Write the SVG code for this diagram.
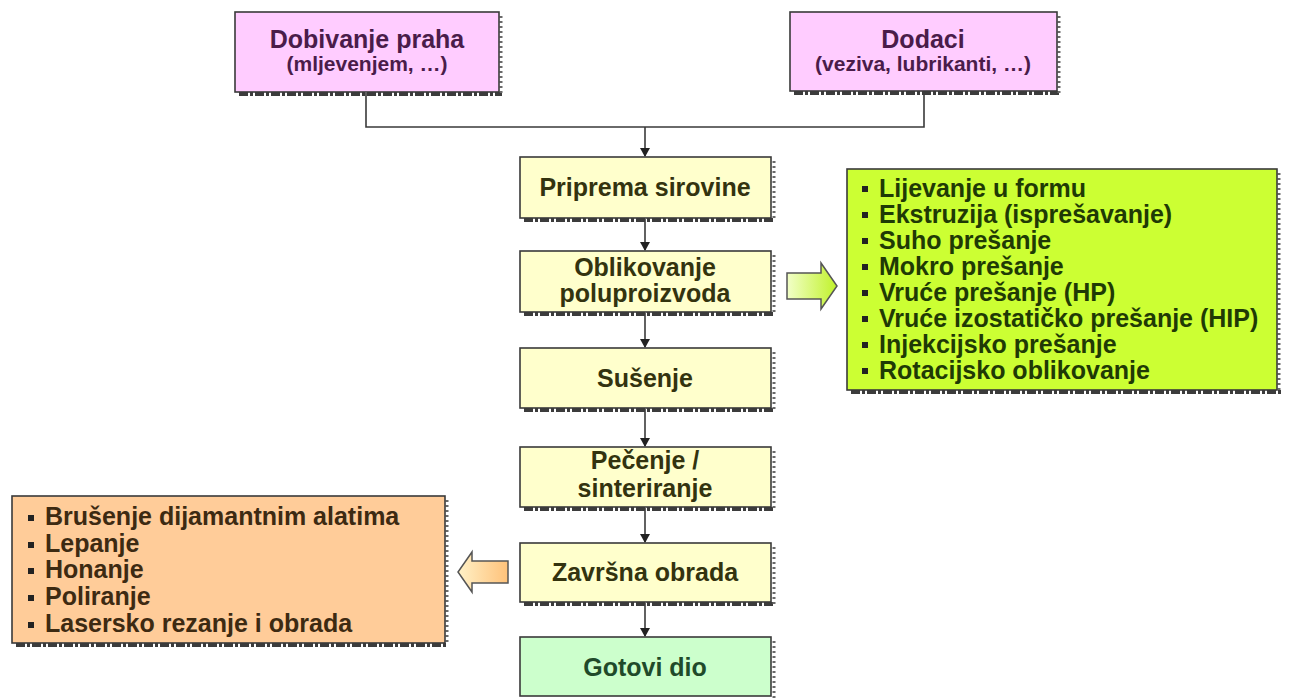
<svg xmlns="http://www.w3.org/2000/svg" width="1292" height="698" viewBox="0 0 1292 698">
<style>
text{font-family:"Liberation Sans",Arial,sans-serif;font-weight:bold}
.box{stroke:#3a3a3a;stroke-width:1.6}
.shb{stroke:#3c3c3c;stroke-width:4;stroke-dasharray:9 2 3 2;fill:none}
.shr{stroke:#6a6a6a;stroke-width:3;stroke-dasharray:2 3;fill:none}
.pink{fill:#FFCCFF}
.yel{fill:#FFFFCC}
.lime{fill:#CCFF33}
.org{fill:#FFCC99}
.grn{fill:#CCFFCC}
.tp{fill:#4a1c4a;text-anchor:middle}
.ty{fill:#33330f;text-anchor:middle;font-size:25px}
.tl{fill:#1f3a05;font-size:25px}
.to{fill:#3d2a12;font-size:25px}
.tg{fill:#1f4a2a;text-anchor:middle;font-size:25px}
.conn{stroke:#3a3a3a;stroke-width:1.6;fill:none}
.bul{fill:#222}
</style>
<defs>
<linearGradient id="gG" x1="0" y1="0" x2="1" y2="0">
<stop offset="0" stop-color="#F2FFC8"/>
<stop offset="1" stop-color="#C0F22A"/>
</linearGradient>
<linearGradient id="gO" x1="0" y1="0" x2="1" y2="0">
<stop offset="0" stop-color="#FFF2C8"/>
<stop offset="0.5" stop-color="#FFD9A0"/>
<stop offset="1" stop-color="#FFC27A"/>
</linearGradient>
</defs>
<rect width="1292" height="698" fill="#ffffff"/>

<g id="connectors">
<path class="conn" d="M366,93 V127 H924 V92"/>
<path class="conn" d="M645,127 V156"/>
<path d="M640,148 L650,148 L645,157 Z" fill="#222"/>
<path class="conn" d="M645,219 V250"/>
<path d="M640,242 L650,242 L645,251 Z" fill="#222"/>
<path class="conn" d="M645,313 V347"/>
<path d="M640,339 L650,339 L645,348 Z" fill="#222"/>
<path class="conn" d="M645,409 V446"/>
<path d="M640,438 L650,438 L645,447 Z" fill="#222"/>
<path class="conn" d="M645,508 V542"/>
<path d="M640,534 L650,534 L645,543 Z" fill="#222"/>
<path class="conn" d="M645,603 V636"/>
<path d="M640,628 L650,628 L645,637 Z" fill="#222"/>
<path id="arrowGreen" d="M787,273 H821 V263 L837,286 L821,309 V299 H787 Z" fill="url(#gG)" stroke="#555" stroke-width="1.5"/>
<path id="arrowOrange" d="M508,561 H472 V552 L458,572 L472,592 V583 H508 Z" fill="url(#gO)" stroke="#555" stroke-width="1.5"/>
</g>

<g id="node-dobivanje">
<path class="shb" d="M239,94 H502"/><path class="shr" d="M501,16 V94"/>
<rect class="box pink" x="235" y="12" width="264" height="80"/>
<text class="tp" x="367" y="48" font-size="25">Dobivanje praha</text>
<text class="tp" x="367" y="71" font-size="21">(mljevenjem, …)</text>
</g>

<g id="node-dodaci">
<path class="shb" d="M794,93 H1060"/><path class="shr" d="M1059,16 V93"/>
<rect class="box pink" x="790" y="12" width="267" height="79"/>
<text class="tp" x="923" y="48" font-size="25">Dodaci</text>
<text class="tp" x="923" y="71" font-size="21">(veziva, lubrikanti, …)</text>
</g>

<g id="node-priprema">
<path class="shb" d="M524,220 H775"/><path class="shr" d="M774,161 V220"/>
<rect class="box yel" x="520" y="157" width="251" height="61"/>
<text class="ty" x="645" y="196">Priprema sirovine</text>
</g>

<g id="node-oblikovanje">
<path class="shb" d="M524,314 H775"/><path class="shr" d="M774,255 V314"/>
<rect class="box yel" x="520" y="251" width="251" height="61"/>
<text class="ty" x="645" y="276">Oblikovanje</text>
<text class="ty" x="645" y="302">poluproizvoda</text>
</g>

<g id="node-susenje">
<path class="shb" d="M524,410 H775"/><path class="shr" d="M774,352 V410"/>
<rect class="box yel" x="520" y="348" width="251" height="60"/>
<text class="ty" x="645" y="387">Sušenje</text>
</g>

<g id="node-pecenje">
<path class="shb" d="M524,509 H775"/><path class="shr" d="M774,451 V509"/>
<rect class="box yel" x="520" y="447" width="251" height="60"/>
<text class="ty" x="645" y="469" font-size="24">Pečenje /</text>
<text class="ty" x="645" y="497" font-size="24">sinteriranje</text>
</g>

<g id="node-zavrsna">
<path class="shb" d="M524,604 H775"/><path class="shr" d="M774,547 V604"/>
<rect class="box yel" x="520" y="543" width="251" height="59"/>
<text class="ty" x="645" y="581">Završna obrada</text>
</g>

<g id="node-gotovi">
<path class="shr" d="M774,641 V698"/>
<rect class="box grn" x="520" y="637" width="251" height="59"/>
<text class="tg" x="645" y="676">Gotovi dio</text>
</g>

<g id="node-oblikovanje-list">
<path class="shb" d="M851,392 H1281"/><path class="shr" d="M1279,173 V392"/>
<rect class="box lime" x="847" y="169" width="430" height="221"/>
<rect class="bul" x="862" y="186" width="6" height="6"/>
<rect class="bul" x="862" y="212" width="6" height="6"/>
<rect class="bul" x="862" y="238" width="6" height="6"/>
<rect class="bul" x="862" y="264" width="6" height="6"/>
<rect class="bul" x="862" y="290" width="6" height="6"/>
<rect class="bul" x="862" y="316" width="6" height="6"/>
<rect class="bul" x="862" y="342" width="6" height="6"/>
<rect class="bul" x="862" y="368" width="6" height="6"/>
<text class="tl" x="879" y="197">Lijevanje u formu</text>
<text class="tl" x="879" y="223">Ekstruzija (isprešavanje)</text>
<text class="tl" x="879" y="249">Suho prešanje</text>
<text class="tl" x="879" y="275">Mokro prešanje</text>
<text class="tl" x="879" y="301">Vruće prešanje (HP)</text>
<text class="tl" x="879" y="327">Vruće izostatičko prešanje (HIP)</text>
<text class="tl" x="879" y="353">Injekcijsko prešanje</text>
<text class="tl" x="879" y="379">Rotacijsko oblikovanje</text>
</g>

<g id="node-zavrsna-list">
<path class="shb" d="M16,645 H448"/><path class="shr" d="M447,500 V645"/>
<rect class="box org" x="12" y="496" width="433" height="147"/>
<rect class="bul" x="28" y="515" width="6" height="6"/>
<rect class="bul" x="28" y="542" width="6" height="6"/>
<rect class="bul" x="28" y="568" width="6" height="6"/>
<rect class="bul" x="28" y="595" width="6" height="6"/>
<rect class="bul" x="28" y="622" width="6" height="6"/>
<text class="to" x="45" y="525">Brušenje dijamantnim alatima</text>
<text class="to" x="45" y="552">Lepanje</text>
<text class="to" x="45" y="578">Honanje</text>
<text class="to" x="45" y="605">Poliranje</text>
<text class="to" x="45" y="632">Lasersko rezanje i obrada</text>
</g>
</svg>
